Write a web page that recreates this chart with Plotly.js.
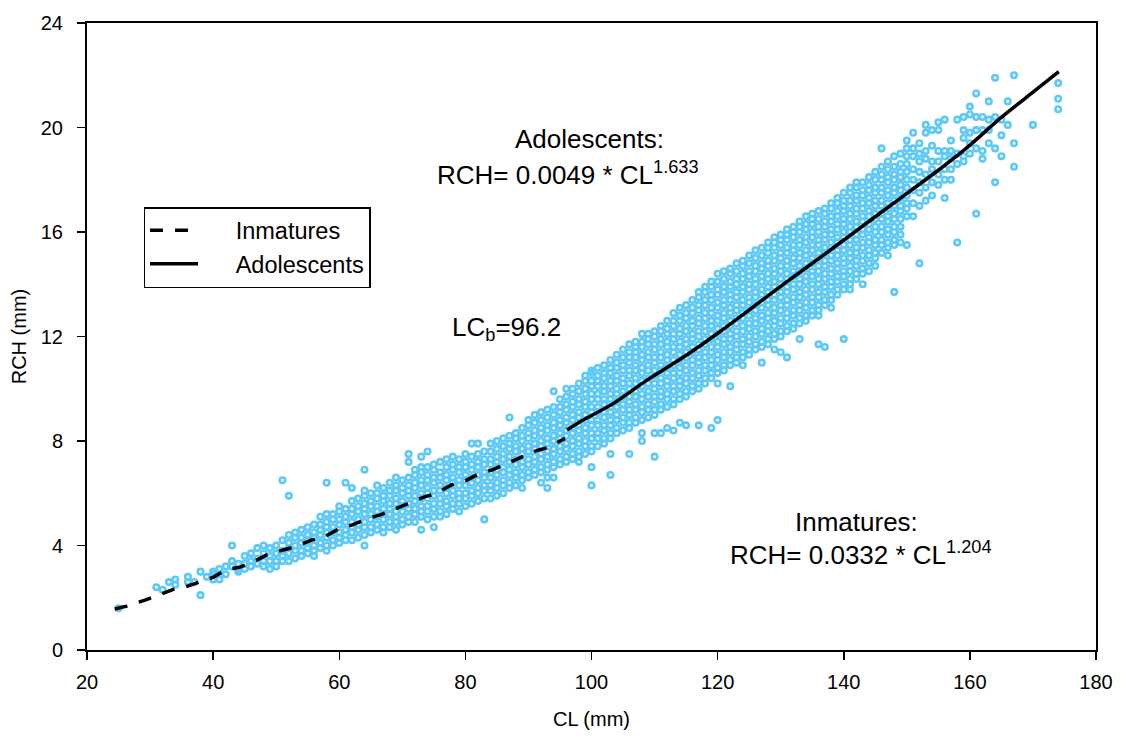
<!DOCTYPE html>
<html><head><meta charset="utf-8">
<script src="https://cdn.plot.ly/plotly-3.0.1.min.js"></script>
<style>html,body{margin:0;padding:0;background:#fff}#chart{width:1121px;height:740px}</style>
</head><body><div id="chart"></div>
<script>
const inmatureCL = [25,31,32,33,34,36,37,38,39,40,41,42,43,44,45,46,47,48,49,50,51,52,53,54,55,56,57,58,59,60,61,62,63,64,65,66,67,68,69,70,71,72,73,74,75,76,77,78,79,80,81,82,83,84,85,86,87,88,89,90,91,92,93,94,95,96];
const inmatureRCH = [
[1.6],[2.4],[2.3],[2.6],[2.7,2.5],[2.8,2.6],[2.6],[2.1,3.0],[2.8],
[2.7,2.9,3.0],[2.7,2.9,3.1],[2.9,3.2],[3.2,3.4,4.0],[3.0,3.1,3.3],[3.1,3.3,3.6],[3.2,3.4,3.7],[3.3,3.5,3.9],[3.2,3.4,3.7,4.0],[3.1,3.4,3.6,3.9],[3.2,3.4,3.7,4.0],
[3.4,3.6,3.8,4.2,6.5],[3.4,3.7,3.9,4.1,4.4,5.9],[3.5,3.8,4.0,4.3,4.5],[3.6,3.8,4.1,4.3,4.6],[3.7,3.9,4.2,4.4,4.7],[3.6,3.8,4.0,4.3,4.5,4.8],[3.9,4.1,4.4,4.6,4.8,5.1],[3.8,4.0,4.3,4.5,4.7,4.9,5.2,6.4],[4.0,4.2,4.5,4.7,5.0,5.2],[4.1,4.3,4.5,4.8,5.0,5.3,5.5],
[4.2,4.4,4.6,4.9,5.1,5.4,6.4],[4.2,4.5,4.7,4.9,5.2,5.4,5.7,6.2],[4.3,4.6,4.8,5.0,5.3,5.5,5.8],[4.0,4.4,4.7,4.9,5.2,5.4,5.6,5.9,6.1,6.9],[4.5,4.7,5.0,5.2,5.5,5.7,6.0],[4.6,4.8,5.1,5.3,5.5,5.8,6.0,6.3],[4.5,4.7,5.0,5.2,5.4,5.7,5.9,6.2],[4.7,4.9,5.2,5.4,5.6,5.9,6.1,6.4],[4.6,4.9,5.1,5.3,5.6,5.8,6.1,6.3,6.6],[4.8,5.0,5.3,5.5,5.7,6.0,6.2,6.5],
[4.9,5.1,5.4,5.6,5.9,6.1,6.3,6.6,7.2,7.5],[4.9,5.2,5.4,5.7,5.9,6.2,6.4,6.7,6.9],[4.6,5.1,5.3,5.5,5.8,6.0,6.3,6.5,6.8,7.0,7.4],[5.0,5.3,5.5,5.8,6.0,6.2,6.5,6.7,7.0,7.6],[4.7,5.1,5.4,5.6,5.9,6.1,6.4,6.6,6.9,7.1],[5.1,5.3,5.6,5.8,6.1,6.3,6.6,6.8,7.2],[5.2,5.5,5.7,6.0,6.2,6.5,6.7,7.0,7.3],[5.4,5.6,5.9,6.1,6.4,6.6,6.9,7.1,7.4],[5.3,5.6,5.8,6.0,6.3,6.5,6.8,7.0,7.3],[5.5,5.8,6.0,6.3,6.5,6.7,7.0,7.2,7.5],
[5.6,5.9,6.1,6.4,6.6,6.9,7.1,7.4,7.9],[5.7,6.0,6.2,6.5,6.7,7.0,7.2,7.5,7.9],[5.0,5.8,6.1,6.3,6.6,6.8,7.1,7.3,7.6],[5.8,6.1,6.3,6.6,6.8,7.1,7.3,7.6,7.9],[5.9,6.2,6.4,6.7,6.9,7.2,7.4,7.7,8.0],[6.0,6.3,6.5,6.8,7.0,7.3,7.5,7.8,8.1],[6.2,6.4,6.7,6.9,7.2,7.4,7.7,7.9,8.2,8.9],[6.3,6.6,6.8,7.1,7.3,7.6,7.8,8.1,8.3],[6.2,6.5,6.7,7.0,7.2,7.5,7.7,8.0,8.2,8.5],[6.6,6.8,7.1,7.3,7.6,7.8,8.1,8.3,8.6,8.8],
[6.7,6.9,7.2,7.4,7.7,7.9,8.2,8.4,8.7,9.0],[6.4,6.8,7.0,7.3,7.5,7.8,8.0,8.3,8.5,8.8,9.1],[6.2,6.6,6.9,7.1,7.4,7.6,7.9,8.1,8.4,8.6,8.9,9.2],[6.6,7.0,7.2,7.5,7.7,8.0,8.2,8.5,8.7,9.0,9.3,9.9],[7.1,7.3,7.6,7.8,8.1,8.3,8.6,8.8,9.1,9.3,9.6],[7.2,7.4,7.7,7.9,8.2,8.4,8.7,8.9,9.2,9.4,9.7,10.0]
];
const adolescentCL = [97,98,99,100,101,102,103,104,105,106,107,108,109,110,111,112,113,114,115,116,117,118,119,120,121,122,123,124,125,126,127,128,129,130,131,132,133,134,135,136,137,138,139,140,141,142,143,144,145,146,147,148,149,150,151,152,153,154,155,156,157,158,159,160,161,162,163,164,165,166,167,170,174];
const adolescentRCH = [
[7.3,7.5,7.8,8.0,8.3,8.5,8.8,9.0,9.3,9.5,9.8,10.0],
[7.2,7.4,7.6,7.9,8.1,8.4,8.6,8.9,9.1,9.4,9.6,9.9,10.2],
[7.5,7.8,8.0,8.3,8.5,8.8,9.0,9.3,9.5,9.8,10.0,10.3,10.5],
[6.3,7.0,7.6,7.8,8.1,8.3,8.6,8.8,9.1,9.3,9.6,9.8,10.1,10.3,10.6,10.7],
[7.8,8.1,8.3,8.6,8.8,9.1,9.3,9.6,9.8,10.1,10.3,10.5,10.8],
[7.9,8.1,8.4,8.6,8.9,9.1,9.4,9.6,9.9,10.1,10.4,10.6,10.9],
[6.7,7.5,8.1,8.3,8.6,8.8,9.1,9.3,9.6,9.8,10.1,10.3,10.6,10.8,11.1],
[8.3,8.5,8.8,9.0,9.3,9.5,9.8,10.0,10.3,10.5,10.8,11.0,11.3],
[8.4,8.7,8.9,9.2,9.4,9.7,9.9,10.2,10.4,10.7,10.9,11.2,11.5],
[7.5,8.5,8.7,9.0,9.2,9.5,9.7,10.0,10.2,10.5,10.7,11.0,11.2,11.4,11.7],
[8.7,8.9,9.2,9.4,9.7,9.9,10.2,10.4,10.7,10.9,11.2,11.4,11.6,11.8],
[8.0,8.3,8.8,9.1,9.3,9.6,9.8,10.1,10.3,10.6,10.8,11.1,11.3,11.6,11.8,12.1],
[8.9,9.2,9.4,9.7,9.9,10.2,10.4,10.7,10.9,11.2,11.4,11.7,11.9,12.1],
[7.4,8.3,9.0,9.2,9.5,9.7,10.0,10.2,10.5,10.7,11.0,11.2,11.5,11.7,12.0,12.2],
[8.3,9.2,9.4,9.7,9.9,10.2,10.4,10.7,10.9,11.2,11.4,11.7,11.9,12.2,12.4],
[8.5,9.3,9.6,9.8,10.1,10.3,10.6,10.8,11.1,11.3,11.6,11.8,12.1,12.3,12.6],
[8.4,9.4,9.6,9.9,10.1,10.4,10.6,10.9,11.1,11.4,11.6,11.9,12.1,12.4,12.6,12.9],
[8.7,9.6,9.8,10.1,10.3,10.6,10.8,11.1,11.3,11.6,11.8,12.1,12.3,12.6,12.8,13.1],
[8.6,9.7,9.9,10.2,10.4,10.7,10.9,11.2,11.4,11.7,11.9,12.2,12.4,12.7,12.9,13.2],
[9.9,10.1,10.4,10.6,10.9,11.1,11.4,11.6,11.9,12.1,12.4,12.6,12.9,13.1,13.4],
[8.6,10.0,10.2,10.5,10.7,11.0,11.2,11.5,11.7,12.0,12.2,12.5,12.7,13.0,13.2,13.5,13.7],
[10.2,10.4,10.7,10.9,11.2,11.4,11.7,11.9,12.2,12.4,12.7,12.9,13.2,13.4,13.7,13.9],
[8.5,10.4,10.6,10.9,11.1,11.4,11.6,11.9,12.1,12.4,12.6,12.9,13.1,13.4,13.6,13.9,14.1],
[8.8,10.2,10.6,10.8,11.1,11.3,11.6,11.8,12.1,12.3,12.6,12.8,13.1,13.3,13.6,13.8,14.1,14.4],
[10.7,10.9,11.2,11.4,11.7,11.9,12.2,12.4,12.7,12.9,13.2,13.4,13.7,13.9,14.2,14.5],
[10.1,10.9,11.1,11.4,11.6,11.9,12.1,12.4,12.6,12.9,13.1,13.4,13.6,13.9,14.1,14.4,14.6],
[11.0,11.2,11.5,11.7,12.0,12.2,12.5,12.7,13.0,13.2,13.5,13.7,14.0,14.2,14.5,14.8],
[10.9,11.2,11.4,11.7,11.9,12.2,12.4,12.7,12.9,13.2,13.4,13.7,13.9,14.2,14.4,14.7,14.9],
[11.3,11.5,11.8,12.0,12.3,12.5,12.8,13.0,13.3,13.5,13.8,14.0,14.3,14.5,14.8,15.1],
[11.5,11.7,12.0,12.2,12.5,12.7,13.0,13.2,13.5,13.7,14.0,14.2,14.5,14.7,15.0,15.3],
[11.0,11.6,11.8,12.1,12.3,12.6,12.8,13.1,13.3,13.6,13.8,14.1,14.3,14.6,14.8,15.1,15.4],
[11.7,11.9,12.2,12.4,12.7,12.9,13.2,13.4,13.7,13.9,14.2,14.4,14.7,14.9,15.2,15.4,15.6],
[11.5,11.9,12.1,12.4,12.6,12.9,13.1,13.4,13.6,13.9,14.1,14.4,14.6,14.9,15.1,15.4,15.6,15.8],
[11.4,12.0,12.2,12.5,12.7,13.0,13.2,13.5,13.7,14.0,14.2,14.5,14.7,15.0,15.2,15.5,15.7,15.9],
[11.2,12.2,12.4,12.7,12.9,13.2,13.4,13.7,13.9,14.2,14.4,14.7,14.9,15.2,15.4,15.7,15.9,16.1],
[12.3,12.5,12.8,13.0,13.3,13.5,13.8,14.0,14.3,14.5,14.8,15.0,15.3,15.5,15.8,16.0,16.2],
[11.9,12.5,12.7,13.0,13.2,13.5,13.7,14.0,14.2,14.5,14.7,15.0,15.2,15.5,15.7,16.0,16.2,16.4],
[12.6,12.8,13.1,13.3,13.6,13.8,14.1,14.3,14.6,14.8,15.1,15.3,15.6,15.8,16.1,16.3,16.6],
[12.8,13.0,13.3,13.5,13.8,14.0,14.3,14.5,14.8,15.0,15.3,15.5,15.8,16.0,16.3,16.5,16.7],
[11.7,12.8,13.0,13.2,13.5,13.7,14.0,14.2,14.5,14.7,15.0,15.2,15.5,15.7,16.0,16.2,16.5,16.8],
[11.6,13.2,13.4,13.7,13.9,14.2,14.4,14.7,14.9,15.2,15.4,15.7,15.9,16.2,16.4,16.7,16.9],
[13.1,13.4,13.6,13.9,14.1,14.4,14.6,14.9,15.1,15.4,15.6,15.9,16.1,16.4,16.6,16.9,17.1],
[13.6,13.8,14.1,14.3,14.6,14.8,15.1,15.3,15.6,15.8,16.1,16.3,16.6,16.8,17.1,17.3],
[11.9,13.8,14.0,14.3,14.5,14.8,15.0,15.3,15.5,15.8,16.0,16.3,16.5,16.8,17.0,17.2,17.5],
[13.8,14.0,14.2,14.5,14.7,15.0,15.2,15.5,15.7,16.0,16.2,16.5,16.7,17.0,17.2,17.5,17.7],
[14.2,14.4,14.7,14.9,15.2,15.4,15.7,15.9,16.2,16.4,16.7,16.9,17.2,17.4,17.7,17.9],
[14.0,14.4,14.6,14.9,15.1,15.4,15.6,15.9,16.1,16.4,16.6,16.9,17.1,17.4,17.6,17.9],
[14.5,14.8,15.1,15.3,15.6,15.8,16.1,16.3,16.6,16.8,17.1,17.3,17.6,17.8,18.1],
[14.7,15.0,15.2,15.5,15.7,16.0,16.2,16.5,16.7,17.0,17.2,17.5,17.7,18.0,18.3],
[15.2,15.5,15.7,16.0,16.2,16.5,16.7,17.0,17.2,17.5,17.7,18.0,18.2,18.5,19.2],
[15.1,15.4,15.6,15.9,16.1,16.4,16.6,16.9,17.1,17.4,17.6,17.9,18.1,18.4,18.7],
[13.7,15.5,15.7,16.0,16.2,16.5,16.7,17.0,17.2,17.5,17.7,18.0,18.2,18.5,18.9],
[15.6,15.9,16.2,16.5,16.8,17.0,17.3,17.6,17.8,18.1,18.3,18.6,19.0],
[15.5,16.6,16.9,17.1,17.4,17.7,18.0,18.3,18.6,18.9,19.2,19.5],
[16.6,17.1,17.6,18.0,18.4,18.9,19.2,19.8],
[14.8,17.0,17.5,17.9,18.3,18.7,19.0,19.4],
[17.2,17.7,18.2,18.8,19.1,19.8,20.1],
[17.4,17.9,18.4,18.7,19.3,19.9],
[17.8,18.2,18.7,19.1,19.9,20.2],
[17.3,18.0,18.4,18.9,19.1,20.3],
[18.0,18.4,18.8,19.1,19.5],
[15.6,18.6,19.0,20.3],
[18.7,18.9,19.6,19.9,20.4],
[19.0,19.4,19.8,20.5,20.8],
[16.7,19.2,19.9,20.4,21.3],
[18.8,19.1,19.9,20.4],
[19.4,19.9,20.3,21.0],
[17.9,19.2,20.4,21.9],
[18.9,19.7,20.3],
[20.1,21.0],
[18.5,19.4,22.0],
[20.1],
[20.7,21.1,21.7]
];
// Fitted curves
const inmatureFitCL  = [24.4,26.3,29.2,31.1,33.7,35.0,37.9,40.0,42.2,44.3,46.9,48.5,51.1,53.0,55.6,57.5,60.1,62.0,64.6,66.5,69.1,70.7,73.6,75.2,77.8,79.7,82.1,84.2,86.8,88.7,91.3,93.2,95.8];
const inmatureFitRCH = [1.57,1.68,1.91,2.08,2.32,2.37,2.61,2.78,3.09,3.17,3.44,3.64,3.83,3.95,4.21,4.31,4.66,4.78,5.04,5.17,5.42,5.59,5.87,5.97,6.32,6.44,6.74,6.89,7.15,7.34,7.63,7.76,8.10];
const adolescentFitCL  = [96.1,98.2,103.5,108.8,115.1,120.4,125.7,131.0,136.3,141.5,148.9,154.2,159.5,164.8,170.1,174.1];
const adolescentFitRCH = [8.42,8.74,9.44,10.33,11.29,12.19,13.14,14.10,15.03,15.96,17.28,18.22,19.22,20.35,21.37,22.14];
const xTickVals = [20,40,60,80,100,120,140,160,180];
const yTickVals = [0,4,8,12,16,20,24];

function flatten(cls, rchs) {
  const x = [], y = [];
  cls.forEach((c, i) => rchs[i].forEach(v => { x.push(c); y.push(v); }));
  return {x, y};
}
const a = flatten(inmatureCL, inmatureRCH);
const b = flatten(adolescentCL, adolescentRCH);
const FONT = 'Liberation Sans, Arial, sans-serif';
const ptColor = '#5CC9F6';
const ptMarker = {symbol: 'circle-open', size: 5.5, color: ptColor, line: {width: 2.6, color: ptColor}};
const pad = '\u00a0\u00a0\u00a0\u00a0\u00a0';

const traces = [
  {x: a.x.concat(b.x), y: a.y.concat(b.y), type: 'scatter', mode: 'markers', marker: ptMarker, showlegend: false, hoverinfo: 'skip'},
  {x: inmatureFitCL, y: inmatureFitRCH, type: 'scatter', mode: 'lines', name: pad + 'Inmatures',
   line: {color: '#000', width: 3.5, dash: '13px,12px'}},
  {x: adolescentFitCL, y: adolescentFitRCH, type: 'scatter', mode: 'lines', name: pad + 'Adolescents',
   line: {color: '#000', width: 3.5, shape: 'spline', smoothing: 0.8}}
];

const axisCommon = {
  showgrid: false, zeroline: false, showline: true, linecolor: '#000', linewidth: 2, mirror: true,
  ticks: 'outside', ticklen: 8, tickwidth: 1.5, tickcolor: '#000',
  tickfont: {size: 20, color: '#000', family: FONT}
};

const annFont = {size: 26, color: '#000', family: FONT};
const layout = {
  width: 1121, height: 740,
  margin: {l: 87, r: 25, t: 23, b: 90},
  paper_bgcolor: '#fff', plot_bgcolor: '#fff',
  font: {family: FONT, color: '#000'},
  xaxis: Object.assign({}, axisCommon, {range: [20, 180], tickvals: xTickVals, ticklabelstandoff: 5,
    title: {text: 'CL (mm)', font: {size: 20, family: FONT, color: '#000'}, standoff: 20}}),
  yaxis: Object.assign({}, axisCommon, {range: [0, 24], tickvals: yTickVals, ticklabelstandoff: 10,
    title: {text: 'RCH (mm)', font: {size: 20, family: FONT, color: '#000'}, standoff: 9}}),
  legend: {x: 0.056, y: 0.7065, xanchor: 'left', yanchor: 'top', bgcolor: '#fff',
    bordercolor: '#000', borderwidth: 1.5, font: {size: 23.5, color: '#000', family: FONT}, itemwidth: 48},
  annotations: [
    {x: 87.6, y: 19.56, xref: 'x', yref: 'y', xanchor: 'left', yanchor: 'middle', showarrow: false, text: 'Adolescents:', font: annFont},
    {x: 75.2, y: 18.25, xref: 'x', yref: 'y', xanchor: 'left', yanchor: 'middle', showarrow: false, text: 'RCH= 0.0049 * CL<sup>1.633</sup>', font: annFont},
    {x: 77.6, y: 12.3, xref: 'x', yref: 'y', xanchor: 'left', yanchor: 'middle', showarrow: false, text: 'LC<sub>b</sub>=96.2', font: annFont},
    {x: 131.9, y: 4.90, xref: 'x', yref: 'y', xanchor: 'left', yanchor: 'middle', showarrow: false, text: 'Inmatures:', font: annFont},
    {x: 121.6, y: 3.70, xref: 'x', yref: 'y', xanchor: 'left', yanchor: 'middle', showarrow: false, text: 'RCH= 0.0332 * CL<sup>1.204</sup>', font: annFont}
  ]
};
Plotly.newPlot('chart', traces, layout, {displayModeBar: false, staticPlot: true});
</script>
</body></html>
